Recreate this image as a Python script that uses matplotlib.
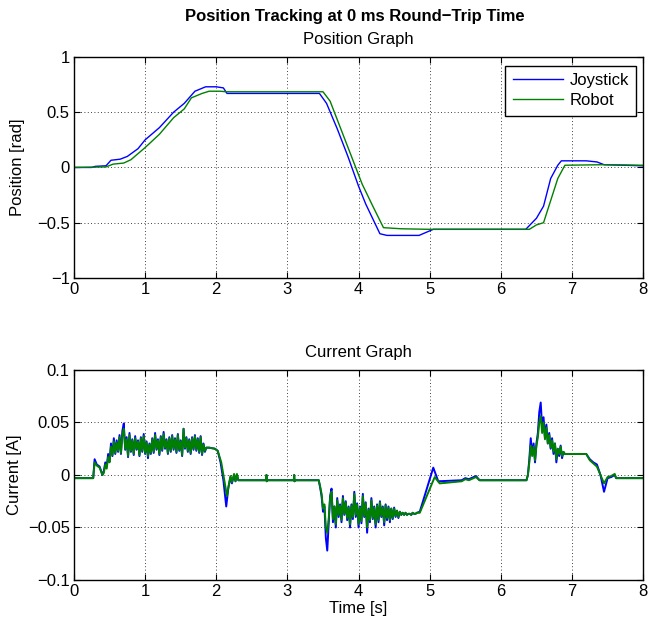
import numpy as np
import matplotlib
matplotlib.use("Agg")
import matplotlib.pyplot as plt

plt.rcParams['font.family'] = ['Liberation Sans', 'DejaVu Sans']
plt.rcParams['axes.unicode_minus'] = True

# ---- position data (rad) ----
pos_t_joy = [0, 0.25, 0.3, 0.45, 0.52, 0.65, 0.75, 0.9, 1.0, 1.2, 1.4, 1.55, 1.7, 1.85,
             2.0, 2.1, 2.15, 3.45, 3.55, 3.7, 3.85, 4.0, 4.1, 4.3, 4.4, 4.85, 5.05,
             6.35, 6.5, 6.6, 6.7, 6.8, 6.85, 7.2, 7.35, 7.45, 8.0]
pos_joy = [0, 0, 0.01, 0.015, 0.065, 0.075, 0.1, 0.17, 0.25, 0.36, 0.5, 0.58, 0.69, 0.73,
           0.73, 0.72, 0.67, 0.67, 0.58, 0.35, 0.1, -0.17, -0.33, -0.6, -0.615, -0.615, -0.56,
           -0.56, -0.46, -0.35, -0.1, 0.02, 0.06, 0.06, 0.05, 0.025, 0.015]

pos_t_rob = [0, 0.45, 0.55, 0.7, 0.8, 1.0, 1.2, 1.4, 1.55, 1.65, 1.8, 1.9, 2.05, 2.15,
             3.5, 3.6, 3.75, 3.9, 4.05, 4.2, 4.35, 4.6, 5.0, 6.4, 6.5, 6.6, 6.7, 6.8,
             6.9, 7.45, 8.0]
pos_rob = [0, 0.005, 0.03, 0.04, 0.07, 0.18, 0.3, 0.45, 0.53, 0.63, 0.67, 0.69, 0.69, 0.685,
           0.685, 0.6, 0.35, 0.1, -0.15, -0.35, -0.545, -0.555, -0.56, -0.56, -0.52, -0.5,
           -0.3, -0.1, 0.02, 0.025, 0.02]

# ---- current data (A) ----
# sparse parts: (t, value)
cur_pre_joy = [(0, -0.003), (0.27, -0.003), (0.29, 0.015), (0.32, 0.01), (0.36, 0.008), (0.40, 0.0)]
cur_mid1_joy = [(1.90, 0.026), (1.98, 0.025), (2.02, 0.023), (2.06, 0.012), (2.10, -0.005),
                (2.14, -0.030), (2.17, -0.012), (2.20, -0.002), (2.22, -0.008), (2.25, 0.0),
                (2.27, -0.006), (2.29, 0.0), (2.31, -0.005), (2.70, -0.005), (2.705, 0.0),
                (2.71, -0.006), (2.72, -0.005), (3.09, -0.005), (3.095, 0.0), (3.10, -0.006),
                (3.11, -0.005), (3.44, -0.005)]
cur_mid2_joy = [(4.86, -0.035), (5.05, 0.007), (5.12, -0.006), (5.45, -0.005), (5.50, -0.003),
                (5.55, -0.004), (5.65, -0.001), (5.70, -0.005), (6.36, -0.005)]
cur_post_joy = [(7.00, 0.020), (7.20, 0.020), (7.25, 0.015), (7.30, 0.012), (7.35, 0.010),
                (7.40, 0.0), (7.45, -0.016), (7.50, -0.003), (7.55, -0.002), (7.60, 0.0),
                (7.62, -0.003), (8.0, -0.003)]

cur_pre_rob = [(0, -0.003), (0.27, -0.003), (0.29, 0.012), (0.32, 0.009), (0.36, 0.007), (0.40, 0.0)]
cur_mid1_rob = [(1.90, 0.026), (1.98, 0.025), (2.02, 0.023), (2.07, 0.012), (2.11, -0.004),
                (2.15, -0.020), (2.18, -0.008), (2.20, -0.001), (2.22, -0.007), (2.25, 0.001),
                (2.27, -0.006), (2.29, 0.001), (2.31, -0.005), (2.70, -0.005), (2.705, 0.0),
                (2.71, -0.006), (2.72, -0.005), (3.09, -0.005), (3.095, 0.0), (3.10, -0.006),
                (3.11, -0.005), (3.44, -0.005)]
cur_mid2_rob = [(4.86, -0.036), (5.07, -0.002), (5.14, -0.008), (5.45, -0.006), (5.50, -0.004),
                (5.55, -0.005), (5.65, -0.002), (5.70, -0.005), (6.36, -0.005)]
cur_post_rob = [(7.00, 0.020), (7.20, 0.020), (7.25, 0.014), (7.30, 0.011), (7.35, 0.008),
                (7.40, 0.0), (7.45, -0.008), (7.50, -0.002), (7.55, -0.001), (7.60, 0.001),
                (7.62, -0.003), (8.0, -0.003)]

# noisy bursts, sampled every 0.02 s from the given start time
burst1_start, burst2_start, burst3_start, burst_dt = 0.42, 3.46, 6.38, 0.02

burst1_joy = [0.004, 0.012, 0.008, 0.020, 0.013, 0.030, 0.018, 0.035, 0.020, 0.033, 0.022, 0.038,
              0.020, 0.042, 0.049, 0.024, 0.036, 0.017, 0.040, 0.022, 0.034, 0.019, 0.037, 0.024,
              0.033, 0.018, 0.036, 0.022, 0.039, 0.020, 0.032, 0.016, 0.030, 0.020, 0.035, 0.021,
              0.040, 0.024, 0.034, 0.019, 0.037, 0.023, 0.041, 0.025, 0.034, 0.020, 0.036, 0.022,
              0.038, 0.024, 0.035, 0.021, 0.039, 0.023, 0.033, 0.018, 0.044, 0.025, 0.036, 0.022,
              0.034, 0.020, 0.036, 0.024, 0.038, 0.023, 0.035, 0.021, 0.037, 0.019, 0.030, 0.022,
              0.026]
burst1_rob = [0.002, 0.010, 0.006, 0.017, 0.012, 0.027, 0.019, 0.032, 0.021, 0.031, 0.023, 0.036,
              0.021, 0.038, 0.044, 0.025, 0.034, 0.018, 0.038, 0.023, 0.033, 0.020, 0.035, 0.025,
              0.032, 0.019, 0.035, 0.023, 0.037, 0.021, 0.031, 0.018, 0.029, 0.021, 0.034, 0.022,
              0.038, 0.025, 0.033, 0.020, 0.036, 0.024, 0.039, 0.026, 0.033, 0.021, 0.035, 0.023,
              0.037, 0.025, 0.034, 0.022, 0.038, 0.024, 0.032, 0.019, 0.044, 0.026, 0.035, 0.023,
              0.033, 0.021, 0.035, 0.025, 0.037, 0.024, 0.034, 0.022, 0.036, 0.020, 0.029, 0.023,
              0.026]

burst2_joy = [-0.012, -0.020, -0.035, -0.030, -0.060, -0.072, -0.045, -0.020, -0.013, -0.045,
              -0.030, -0.050, -0.022, -0.040, -0.028, -0.045, -0.020, -0.038, -0.025, -0.043,
              -0.030, -0.050, -0.028, -0.042, -0.016, -0.040, -0.027, -0.050, -0.030, -0.046,
              -0.018, -0.040, -0.026, -0.055, -0.032, -0.045, -0.022, -0.042, -0.030, -0.050,
              -0.028, -0.045, -0.025, -0.040, -0.030, -0.048, -0.028, -0.043, -0.030, -0.045,
              -0.032, -0.042, -0.031, -0.040, -0.034, -0.041, -0.035, -0.038, -0.036, -0.038,
              -0.036, -0.038, -0.037, -0.037, -0.038, -0.036, -0.037, -0.037, -0.036]
burst2_rob = [-0.011, -0.018, -0.032, -0.028, -0.050, -0.055, -0.042, -0.022, -0.016, -0.042,
              -0.030, -0.047, -0.024, -0.038, -0.029, -0.043, -0.022, -0.037, -0.026, -0.041,
              -0.031, -0.047, -0.029, -0.040, -0.018, -0.038, -0.028, -0.047, -0.031, -0.044,
              -0.020, -0.039, -0.027, -0.050, -0.033, -0.043, -0.024, -0.041, -0.031, -0.047,
              -0.029, -0.043, -0.026, -0.039, -0.031, -0.045, -0.029, -0.041, -0.031, -0.043,
              -0.032, -0.041, -0.032, -0.039, -0.034, -0.040, -0.035, -0.038, -0.036, -0.038,
              -0.036, -0.038, -0.037, -0.037, -0.038, -0.036, -0.037, -0.037, -0.036]

burst3_joy = [0.000, 0.015, 0.035, 0.020, 0.030, 0.012, 0.030, 0.040, 0.060, 0.069, 0.045, 0.055,
              0.035, 0.048, 0.030, 0.040, 0.025, 0.035, 0.020, 0.030, 0.012, 0.025, 0.018, 0.028,
              0.016, 0.022, 0.020, 0.020]
burst3_rob = [0.000, 0.012, 0.028, 0.018, 0.027, 0.014, 0.028, 0.036, 0.050, 0.056, 0.040, 0.050,
              0.034, 0.045, 0.030, 0.038, 0.026, 0.033, 0.022, 0.030, 0.015, 0.025, 0.020, 0.027,
              0.018, 0.022, 0.020, 0.020]


def assemble(pre, b1, mid1, b2, mid2, b3, post):
    tt, vv = [], []
    for part, start in [(pre, None), (b1, burst1_start), (mid1, None), (b2, burst2_start),
                        (mid2, None), (b3, burst3_start), (post, None)]:
        if start is None:
            tt += [p[0] for p in part]
            vv += [p[1] for p in part]
        else:
            tt += list(start + burst_dt * np.arange(len(part)))
            vv += list(part)
    return np.array(tt), np.array(vv)


cur_t_joy, cur_joy = assemble(cur_pre_joy, burst1_joy, cur_mid1_joy, burst2_joy,
                              cur_mid2_joy, burst3_joy, cur_post_joy)
cur_t_rob, cur_rob = assemble(cur_pre_rob, burst1_rob, cur_mid1_rob, burst2_rob,
                              cur_mid2_rob, burst3_rob, cur_post_rob)

blue = '#0000ff'
green = '#008000'
fs = 12

fig = plt.figure(figsize=(6.49, 6.26), dpi=100)
ax1 = fig.add_axes([0.114, 0.556, 0.877, 0.353])
ax2 = fig.add_axes([0.114, 0.0735, 0.877, 0.3355])


def matlab_style(ax):
    ax.grid(True, linestyle=(0, (1, 3)), color='black', linewidth=0.6)
    ax.tick_params(direction='in', top=True, right=True, labelsize=fs, length=4, pad=3)
    for s in ax.spines.values():
        s.set_linewidth(1.0)
    ax.set_xlim(0, 8)
    ax.set_xticks(range(0, 9))


ax1.plot(pos_t_joy, pos_joy, color=blue, lw=1.0, label='Joystick')
ax1.plot(pos_t_rob, pos_rob, color=green, lw=1.0, label='Robot')
matlab_style(ax1)
ax1.set_ylim(-1, 1)
ax1.set_yticks([-1, -0.5, 0, 0.5, 1])
ax1.set_yticklabels(['\u22121', '\u22120.5', '0', '0.5', '1'])
ax1.set_ylabel('Position [rad]', fontsize=fs, labelpad=9)
ax1.set_title('Position Graph', fontsize=fs, pad=9)
leg = ax1.legend(loc='upper right', bbox_to_anchor=(0.988, 0.96), fancybox=False,
                 edgecolor='black', framealpha=1, fontsize=fs, handlelength=3.0,
                 borderpad=0.45, labelspacing=0.3, handletextpad=0.4, borderaxespad=0)
leg.get_frame().set_linewidth(1.0)

ax2.plot(cur_t_joy, cur_joy, color=blue, lw=1.4)
ax2.plot(cur_t_rob, cur_rob, color=green, lw=1.4)
matlab_style(ax2)
ax2.set_ylim(-0.1, 0.1)
ax2.set_yticks([-0.1, -0.05, 0, 0.05, 0.1])
ax2.set_yticklabels(['\u22120.1', '\u22120.05', '0', '0.05', '0.1'])
ax2.set_ylabel('Current [A]', fontsize=fs, labelpad=4)
ax2.set_xlabel('Time [s]', fontsize=fs, labelpad=1)
ax2.set_title('Current Graph', fontsize=fs, pad=9)

fig.text(0.547, 0.974, 'Position Tracking at 0 ms Round\u2212Trip Time', ha='center', va='center',
         fontsize=fs, fontweight='bold')

fig.savefig('out.png', dpi=100)
